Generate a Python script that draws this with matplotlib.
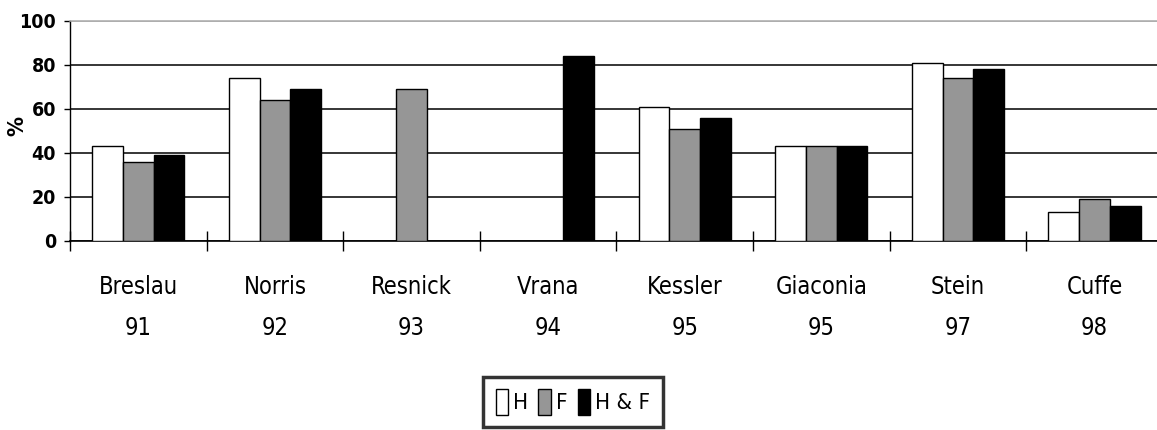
import numpy as np
import matplotlib
matplotlib.use("Agg")
import matplotlib.pyplot as plt

FAM = ["DejaVu Sans"]

categories = ["Breslau\n91", "Norris\n92", "Resnick\n93", "Vrana\n94",
              "Kessler\n95", "Giaconia\n95", "Stein\n97", "Cuffe\n98"]
series_names = ["H", "F", "H & F"]
h_vals = [43, 74, np.nan, np.nan, 61, 43, 81, 13]
f_vals = [36, 64, 69, np.nan, 51, 43, 74, 19]
hf_vals = [39, 69, np.nan, 84, 56, 43, 78, 16]
y_ticks = [0, 20, 40, 60, 80, 100]

colors = ["#ffffff", "#969696", "#000000"]

W, H = 1157, 430
fig = plt.figure(figsize=(W / 100, H / 100), dpi=100)
ax = fig.add_axes([70 / W, 1 - 240.7 / H, 1092.8 / W, (240.7 - 21) / H])

n = len(categories)
centers = np.arange(n) + 0.5
bw = 0.225
for k, (vals, c, name) in enumerate(zip([h_vals, f_vals, hf_vals], colors, series_names)):
    ax.bar(centers + (k - 1) * bw, vals, width=bw, color=c, edgecolor="black",
           linewidth=1.0, label=name, zorder=3)

ax.set_xlim(0, n)
ax.set_ylim(y_ticks[0], y_ticks[-1])

ax.set_yticks(y_ticks)
ax.set_yticklabels([str(t) for t in y_ticks], family=FAM, fontweight="bold",
                   fontsize=14, fontstretch="condensed")
ax.tick_params(axis="y", direction="out", length=4, width=1, pad=6)

ax.set_xticks(np.arange(n + 1))
ax.set_xticklabels([])
ax.tick_params(axis="x", which="major", direction="inout", length=15, width=1)
ax.set_xticks(centers, minor=True)
ax.set_xticklabels(categories, minor=True, family=FAM, fontsize=17,
                   fontstretch="condensed", linespacing=1.85)
ax.tick_params(axis="x", which="minor", length=0, pad=25)

ax.yaxis.grid(True, color="black", linewidth=1.1, zorder=0)
ax.set_axisbelow(True)
gl = ax.get_ygridlines()
gl[-1].set_color("#aaaaaa")

ax.spines["right"].set_visible(False)
ax.spines["top"].set_color("#aaaaaa")
ax.spines["top"].set_linewidth(1.1)
ax.spines["left"].set_linewidth(1.0)
ax.spines["bottom"].set_linewidth(1.2)

ax.set_ylabel("%", family=FAM, fontweight="bold", fontsize=16, fontstretch="condensed")
ax.yaxis.set_label_coords(-43 / 1092.8, 0.52)

leg = fig.legend(loc="upper center", bbox_to_anchor=(573 / W, 1 - 377 / H), ncol=3,
                 frameon=True, fancybox=False, edgecolor="black",
                 handlelength=0.55, handleheight=1.4, handletextpad=0.25,
                 columnspacing=0.45, borderpad=0.55, borderaxespad=0,
                 prop={"family": FAM, "size": 16, "stretch": "condensed"})
leg.get_frame().set_linewidth(2.5)

fig.savefig("out.png", dpi=100)
